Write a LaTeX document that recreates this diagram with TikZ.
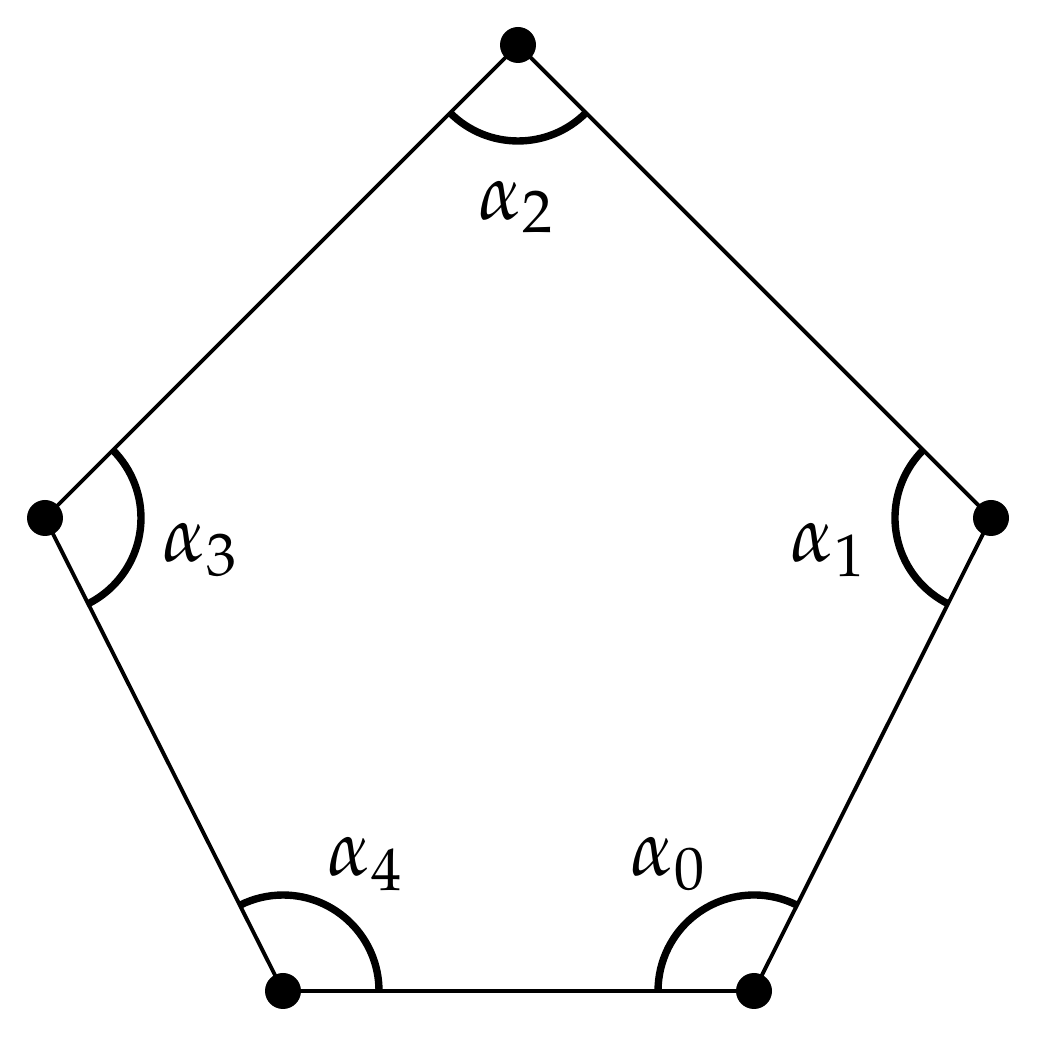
\documentclass[tikz,border=0pt]{standalone}
\usepackage{mathpazo}
\tikzset{
  edge/.style={line width=2.2pt},
  anglearc/.style={line width=4.2pt},
  vdot/.style={circle,fill=black,inner sep=0pt,minimum size=0.72cm},
  lab/.style={font=\fontsize{45}{54}\selectfont}
}
\begin{document}
\begin{tikzpicture}[x=0.02cm,y=0.02cm]
\useasboundingbox (0,0) rectangle (1059,1041);
\coordinate (T) at (518,996);
\coordinate (R) at (991,523);
\coordinate (BR) at (754,50);
\coordinate (BL) at (283,50);
\coordinate (L) at (45,523);
\draw[edge] (T) -- (R) -- (BR) -- (BL) -- (L) -- cycle;
\draw[anglearc] (T) ++(225:96) arc[start angle=225,end angle=315,radius=1.92cm];
\draw[anglearc] (R) ++(135:96) arc[start angle=135,end angle=243.4,radius=1.92cm];
\draw[anglearc] (BR) ++(63.4:96) arc[start angle=63.4,end angle=180,radius=1.92cm];
\draw[anglearc] (BL) ++(0:96) arc[start angle=0,end angle=116.7,radius=1.92cm];
\draw[anglearc] (L) ++(-63.3:96) arc[start angle=-63.3,end angle=45,radius=1.92cm];
\node[vdot] (dT) at (T) {};
\node[vdot] (dR) at (R) {};
\node[vdot] (dBR) at (BR) {};
\node[vdot] (dBL) at (BL) {};
\node[vdot] (dL) at (L) {};
\node[lab] (a2) at (516,834) {$\alpha_2$};
\node[lab] (a1) at (828,491) {$\alpha_1$};
\node[lab] (a3) at (200,491) {$\alpha_3$};
\node[lab] (a4) at (365,177) {$\alpha_4$};
\node[lab] (a0) at (668,177) {$\alpha_0$};
\end{tikzpicture}
\end{document}
